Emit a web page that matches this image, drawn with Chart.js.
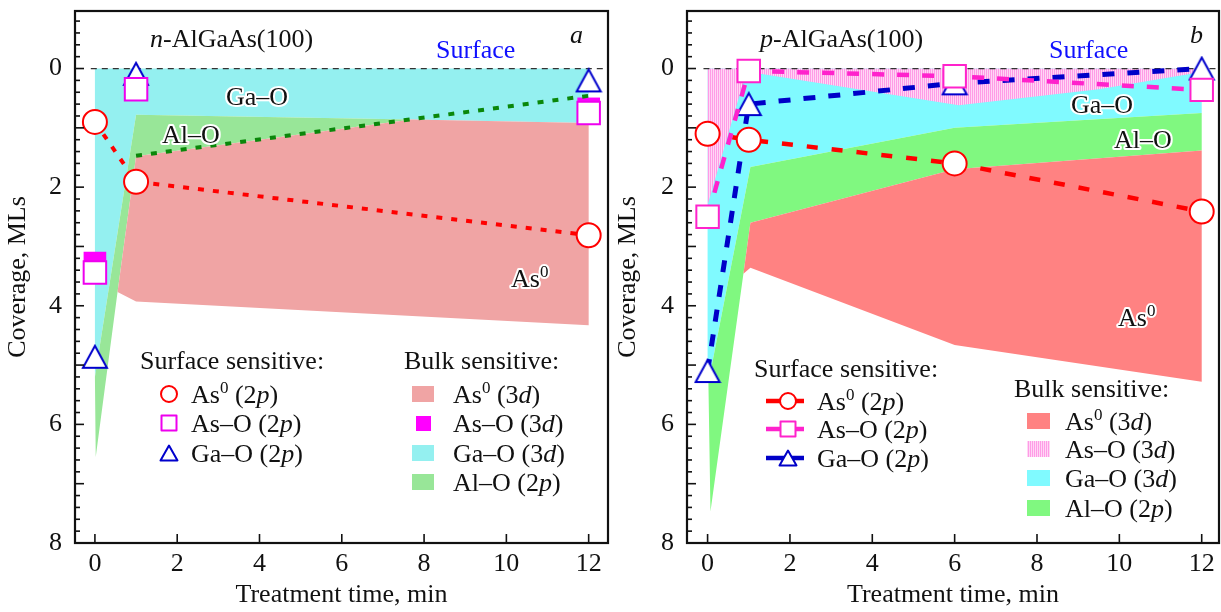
<!DOCTYPE html>
<html><head><meta charset="utf-8">
<script src="https://cdn.jsdelivr.net/npm/chart.js@4.4.1/dist/chart.umd.min.js"></script>
<style>
html,body{margin:0;padding:0;background:#fff;}
#wrap{position:relative;width:1221px;height:612px;overflow:hidden;}
#ca{position:absolute;left:0;top:0;}
#cb{position:absolute;left:610px;top:0;}
</style></head><body>
<div id="wrap"><canvas id="ca" width="610" height="612"></canvas><canvas id="cb" width="611" height="612"></canvas></div>
<script>
// ---------------- DATA ----------------
const xTickValues = [0, 2, 4, 6, 8, 10, 12];
const yTickValues = [0, 2, 4, 6, 8];
const surfaceLineX = [-0.1, 12.35];
const surfaceLineY = [0, 0];

// Panel a : n-AlGaAs(100)
const timeA = [0, 1, 12];
const as0SurfA = [0.9, 1.91, 2.81];      // As0 (2p) circles
const asOSurfA = [3.44, 0.35, 0.75];     // As-O (2p) squares
const gaOSurfA = [4.86, 0.09, 0.2];      // Ga-O (2p) triangles
const asOBulkTimeA = [0, 12];
const asOBulkA = [3.28, 0.68];           // As-O (3d) filled squares
const alOLineTimeA = [1, 12];
const alOLineA = [1.47, 0.46];           // green dotted line
// bulk regions (outline x / y)
const gaORegionAx = [0, 12, 12, 7.7, 1, 0];
const gaORegionAy = [0, 0, 0.92, 0.86, 0.78, 5.2];
const alORegionAx = [1, 7.7, 1, 0.55, 0.02, 0];
const alORegionAy = [0.78, 0.86, 1.48, 3.77, 6.55, 5.2];
const as0RegionAx = [1, 7.7, 12, 12, 1, 0.55];
const as0RegionAy = [1.48, 0.86, 0.92, 4.33, 3.93, 3.77];

// Panel b : p-AlGaAs(100)
const timeB = [0, 1, 6, 12];
const as0SurfB = [1.1, 1.2, 1.6, 2.41];
const asOSurfB = [2.5, 0.04, 0.13, 0.36];
const gaOSurfB = [5.1, 0.6, 0.25, 0.0];
const asORegionBx = [0, 12, 12, 9.5, 6.1, 1.2, 0.9, 0];
const asORegionBy = [0, 0, 0.06, 0.35, 0.62, 0.08, 0.15, 2.3];
const gaORegionBx = [0, 12, 12, 6, 1.04, 0.02, 0];
const gaORegionBy = [0, 0, 0.75, 1.0, 1.66, 5.3, 5.3];
const alORegionBx = [1.04, 6, 12, 12, 6, 1.04, 0.87, 0.07, 0.02];
const alORegionBy = [1.66, 1.0, 0.75, 1.38, 1.7, 2.6, 3.46, 7.47, 5.3];
const as0RegionBx = [1.04, 6, 12, 12, 6, 1.04, 0.87];
const as0RegionBy = [2.6, 1.7, 1.38, 5.28, 4.66, 3.36, 3.46];

// ---------------- HELPERS ----------------
const FONT = '"Liberation Serif","Times New Roman",serif';
const FS = 26;
function pts(xs, ys){ return xs.map((x,i)=>({x:x, y:ys[i]})); }
function region(xs, ys, color, order){
  return {data: pts(xs,ys), fill:'shape', backgroundColor: color, borderColor:'rgba(0,0,0,0)',
    borderWidth:0, pointRadius:0, pointHoverRadius:0, order:order, tension:0};
}
function series(xs, ys, o){ return Object.assign({data: pts(xs,ys), fill:false, tension:0, clip:false}, o); }
function triImg(w, h, stroke, lw){
  const c = document.createElement('canvas'); c.width = w + lw*2; c.height = h + lw*2;
  const g = c.getContext('2d');
  g.beginPath(); g.moveTo(c.width/2, lw); g.lineTo(c.width-lw, c.height-lw); g.lineTo(lw, c.height-lw); g.closePath();
  g.fillStyle = '#fff'; g.fill(); g.lineWidth = lw; g.strokeStyle = stroke; g.stroke();
  return c;
}
function stripePattern(){
  const c = document.createElement('canvas'); c.width = 2; c.height = 2;
  const g = c.getContext('2d');
  g.fillStyle = '#ffd6f5'; g.fillRect(0,0,2,2);
  g.fillStyle = '#ff9be6'; g.fillRect(0,0,1,2);
  return g.createPattern(c, 'repeat');
}
function drawRich(ctx, x, y, segs, size, color, halo){
  let cx = x;
  ctx.textBaseline = 'alphabetic'; ctx.textAlign = 'left';
  for (const s of segs){
    const t = s[0], st = s[1] || '';
    let fs = size, dy = 0, style = '';
    if (st === 'sup'){ fs = Math.round(size*0.66); dy = -size*0.4; }
    if (st === 'it') style = 'italic ';
    ctx.font = style + fs + 'px ' + FONT;
    if (halo){ ctx.lineWidth = 4; ctx.strokeStyle = '#fff'; ctx.lineJoin = 'round'; ctx.strokeText(t, cx, y+dy); }
    ctx.fillStyle = color; ctx.fillText(t, cx, y+dy);
    cx += ctx.measureText(t).width;
  }
}
function mCircle(ctx, x, y, r, col){ ctx.beginPath(); ctx.arc(x,y,r,0,Math.PI*2); ctx.fillStyle='#fff'; ctx.fill(); ctx.lineWidth=2; ctx.strokeStyle=col; ctx.stroke(); }
function mSquare(ctx, x, y, s, col){ ctx.fillStyle='#fff'; ctx.fillRect(x-s/2,y-s/2,s,s); ctx.lineWidth=2; ctx.strokeStyle=col; ctx.strokeRect(x-s/2,y-s/2,s,s); }
function mTri(ctx, x, y, w, h, col){ ctx.beginPath(); ctx.moveTo(x,y-h/2); ctx.lineTo(x+w/2,y+h/2); ctx.lineTo(x-w/2,y+h/2); ctx.closePath(); ctx.fillStyle='#fff'; ctx.fill(); ctx.lineWidth=2; ctx.strokeStyle=col; ctx.stroke(); }

const decorPlugin = {
  id: 'decor',
  afterDraw(chart){
    const ctx = chart.ctx, a = chart.chartArea, xs = chart.scales.x, ys = chart.scales.y;
    const spec = chart.options.plugins.decor;
    ctx.save();
    // inner ticks
    ctx.strokeStyle = '#111'; ctx.lineWidth = 1.6;
    for (let i = -4; i <= 40; i++){
      const v = i/5; const py = ys.getPixelForValue(v);
      if (py <= a.top + 1 || py >= a.bottom - 1) continue;
      const len = (i % 5 === 0) ? 9 : 5;
      ctx.beginPath(); ctx.moveTo(a.left, py); ctx.lineTo(a.left+len, py); ctx.stroke();
    }
    for (const v of xTickValues){
      const px = xs.getPixelForValue(v);
      ctx.beginPath(); ctx.moveTo(px, a.bottom); ctx.lineTo(px, a.bottom-9); ctx.stroke();
    }
    // frame
    ctx.lineWidth = 2.2; ctx.strokeStyle = '#111';
    ctx.strokeRect(a.left, a.top, a.right-a.left, a.bottom-a.top);
    // texts
    for (const t of spec.texts) drawRich(ctx, t.x, t.y, t.segs, t.size || FS, t.color || '#111', t.halo);
    // surface legend
    const L = spec.surf;
    drawRich(ctx, L.x, L.y, [['Surface sensitive:']], FS, '#111');
    L.items.forEach((it, i) => {
      const cy = L.cy[i];
      if (L.line){
        ctx.save(); ctx.strokeStyle = it.col; ctx.lineWidth = 4.5;
        ctx.beginPath(); ctx.moveTo(L.l0, cy); ctx.lineTo(L.l1, cy); ctx.stroke(); ctx.restore();
      }
      if (it.m === 'c') mCircle(ctx, L.mx, cy, 8, it.col);
      if (it.m === 's') mSquare(ctx, L.mx, cy, 15, it.col);
      if (it.m === 't') mTri(ctx, L.mx, cy, 17, 15, it.col);
      drawRich(ctx, L.tx, cy + 9, it.segs, FS, '#111');
    });
    const B = spec.bulk;
    drawRich(ctx, B.x, B.y, [['Bulk sensitive:']], FS, '#111');
    B.items.forEach((it, i) => {
      const cy = B.cy[i];
      ctx.fillStyle = it.col;
      if (it.small) ctx.fillRect(B.sx + 4, cy - 7, 15, 15);
      else ctx.fillRect(B.sx, cy - 8, B.sw, 16);
      drawRich(ctx, B.tx, cy + 9, it.segs, FS, '#111');
    });
    ctx.restore();
  }
};

function makeChart(canvas, datasets, cfg){
  return new Chart(canvas, {
    type: 'line',
    data: { datasets: datasets },
    plugins: [decorPlugin],
    options: {
      responsive: false, animation: false, events: [],
      layout: { autoPadding: false, padding: { left: 0, right: cfg.padRight, top: 11, bottom: 0 } },
      scales: {
        x: { type: 'linear', min: cfg.xmin, max: cfg.xmax,
          afterBuildTicks: s => { s.ticks = xTickValues.map(v => ({value: v})); },
          afterFit: s => { s.height = 69; s.paddingLeft = 0; s.paddingRight = 0; s.paddingTop = 0; s.paddingBottom = 0; },
          grid: { display: false, drawTicks: false }, border: { display: false },
          ticks: { font: { family: FONT, size: FS }, color: '#111', padding: 6, maxRotation: 0, autoSkip: false },
          title: { display: true, text: 'Treatment time, min', font: { family: FONT, size: FS, lineHeight: 1.2 }, color: '#111', padding: { top: 0, bottom: 1 } } },
        y: { type: 'linear', reverse: true, min: -0.97, max: 8,
          afterBuildTicks: s => { s.ticks = yTickValues.map(v => ({value: v})); },
          afterFit: s => { s.width = cfg.yWidth; s.paddingLeft = 0; s.paddingRight = 0; s.paddingTop = 0; s.paddingBottom = 0; },
          grid: { display: false, drawTicks: false }, border: { display: false },
          ticks: { font: { family: FONT, size: FS }, color: '#111', padding: 13, autoSkip: false },
          title: { display: true, text: 'Coverage, MLs', font: { family: FONT, size: FS, lineHeight: 1.2 }, color: '#111', padding: { top: 3, bottom: 0 } } }
      },
      plugins: { legend: { display: false }, tooltip: { enabled: false }, decor: cfg.decor }
    }
  });
}

// ---------------- PANEL A ----------------
const triA = triImg(24, 22, '#0000cc', 2);
const dsA = [
  region(gaORegionAx, gaORegionAy, '#94f0f0', 20),
  region(alORegionAx, alORegionAy, '#98e698', 19),
  region(as0RegionAx, as0RegionAy, '#f0a4a4', 18),
  series(surfaceLineX, surfaceLineY, { borderColor: '#333', borderWidth: 1.3, borderDash: [6, 5], pointRadius: 0, order: 17 }),
  series(asOBulkTimeA, asOBulkA, { showLine: false, pointStyle: 'rect', pointRadius: 16, pointBorderWidth: 0, pointBackgroundColor: '#ff00ff', pointBorderColor: '#ff00ff', order: 16 }),
  series(alOLineTimeA, alOLineA, { borderColor: '#0a870a', borderWidth: 4, borderDash: [6, 9], pointRadius: 0, order: 15 }),
  series(timeA, gaOSurfA, { showLine: false, pointStyle: triA, pointRadius: 13, order: 14 }),
  series(timeA, as0SurfA, { borderColor: '#ff0000', borderWidth: 4, borderDash: [6, 9], pointStyle: 'circle', pointRadius: 12, pointBorderWidth: 2, pointBackgroundColor: '#fff', pointBorderColor: '#ff0000', order: 13 }),
  series(timeA, asOSurfA, { showLine: false, pointStyle: 'rect', pointRadius: 15.9, pointBorderWidth: 2, pointBackgroundColor: '#fff', pointBorderColor: '#ee00ee', order: 12 })
];
makeChart(document.getElementById('ca'), dsA, {
  xmin: -0.484, xmax: 12.47, yWidth: 75, padRight: 2,
  decor: {
    texts: [
      { x: 150, y: 47, segs: [['n','it'], ['-AlGaAs(100)']] },
      { x: 570, y: 43, segs: [['a','it']] },
      { x: 436, y: 58, segs: [['Surface']], color: '#1010ff' },
      { x: 226, y: 105, segs: [['Ga–O']], halo: true },
      { x: 162, y: 143, segs: [['Al–O']], halo: true },
      { x: 511, y: 287, segs: [['As'], ['0','sup']], halo: true }
    ],
    surf: { x: 140, y: 369, mx: 169, tx: 191, cy: [394, 423, 453], line: false,
      items: [
        { m: 'c', col: '#ff0000', segs: [['As'], ['0','sup'], [' (2'], ['p','it'], [')']] },
        { m: 's', col: '#ee00ee', segs: [['As–O (2'], ['p','it'], [')']] },
        { m: 't', col: '#0000cc', segs: [['Ga–O (2'], ['p','it'], [')']] }
      ] },
    bulk: { x: 404, y: 369, sx: 412, sw: 22, tx: 453, cy: [394, 423, 453, 482],
      items: [
        { col: '#f0a4a4', segs: [['As'], ['0','sup'], [' (3'], ['d','it'], [')']] },
        { col: '#ff00ff', small: true, segs: [['As–O (3'], ['d','it'], [')']] },
        { col: '#94f0f0', segs: [['Ga–O (3'], ['d','it'], [')']] },
        { col: '#98e698', segs: [['Al–O (2'], ['p','it'], [')']] }
      ] }
  }
});

// ---------------- PANEL B ----------------
const pinkPat = stripePattern();
const triB = triImg(24, 22, '#0000cc', 2);
const dsB = [
  region(gaORegionBx, gaORegionBy, '#80faff', 20),
  region(asORegionBx, asORegionBy, pinkPat, 19),
  region(alORegionBx, alORegionBy, '#80f880', 18),
  region(as0RegionBx, as0RegionBy, '#ff8282', 17),
  series(surfaceLineX, surfaceLineY, { borderColor: '#333', borderWidth: 1.3, borderDash: [6, 5], pointRadius: 0, order: 16 }),
  series(timeB, gaOSurfB, { borderColor: '#0000c8', borderWidth: 5, borderDash: [12, 13], pointStyle: triB, pointRadius: 13, order: 15 }),
  series(timeB, as0SurfB, { borderColor: '#ff0000', borderWidth: 4.5, borderDash: [11, 14], pointStyle: 'circle', pointRadius: 12, pointBorderWidth: 2, pointBackgroundColor: '#fff', pointBorderColor: '#ff0000', order: 14 }),
  series(timeB, asOSurfB, { borderColor: '#ff22cc', borderWidth: 4.5, borderDash: [12, 13], pointStyle: 'rect', pointRadius: 15.9, pointBorderWidth: 2, pointBackgroundColor: '#fff', pointBorderColor: '#ff22cc', order: 13 })
];
makeChart(document.getElementById('cb'), dsB, {
  xmin: -0.5, xmax: 12.42, yWidth: 77, padRight: 2,
  decor: {
    texts: [
      { x: 150, y: 47, segs: [['p','it'], ['-AlGaAs(100)']] },
      { x: 580, y: 43, segs: [['b','it']] },
      { x: 439, y: 58, segs: [['Surface']], color: '#1010ff' },
      { x: 461, y: 113, segs: [['Ga–O']], halo: true },
      { x: 504, y: 148, segs: [['Al–O']], halo: true },
      { x: 508, y: 326, segs: [['As'], ['0','sup']], halo: true }
    ],
    surf: { x: 144, y: 377, mx: 178, tx: 207, cy: [401, 429, 458], line: true, l0: 156, l1: 194,
      items: [
        { m: 'c', col: '#ff0000', segs: [['As'], ['0','sup'], [' (2'], ['p','it'], [')']] },
        { m: 's', col: '#ff22cc', segs: [['As–O (2'], ['p','it'], [')']] },
        { m: 't', col: '#0000c8', segs: [['Ga–O (2'], ['p','it'], [')']] }
      ] },
    bulk: { x: 404, y: 397, sx: 417, sw: 23, tx: 455, cy: [421, 449, 478, 508],
      items: [
        { col: '#ff8282', segs: [['As'], ['0','sup'], [' (3'], ['d','it'], [')']] },
        { col: pinkPat, segs: [['As–O (3'], ['d','it'], [')']] },
        { col: '#80faff', segs: [['Ga–O (3'], ['d','it'], [')']] },
        { col: '#80f880', segs: [['Al–O (2'], ['p','it'], [')']] }
      ] }
  }
});
</script>
</body></html>
